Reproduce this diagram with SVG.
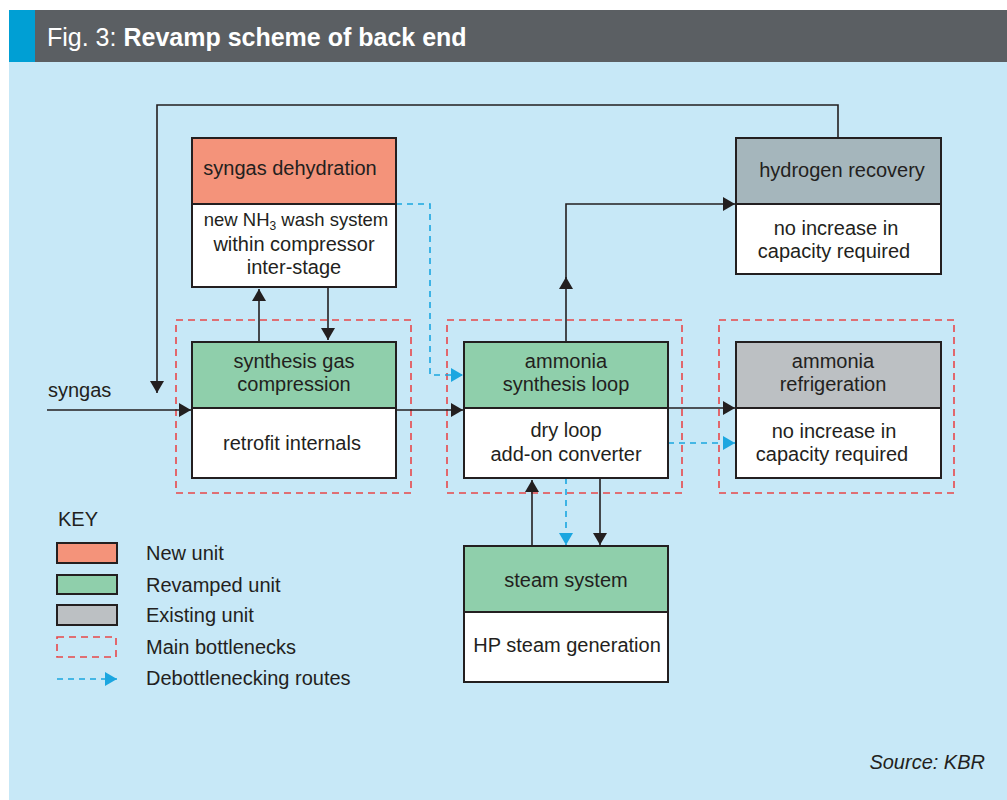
<svg xmlns="http://www.w3.org/2000/svg" width="1007" height="800" viewBox="0 0 1007 800">
  <style>
    .txt { font-family: "Liberation Sans", Arial, sans-serif; font-size: 20px; fill: #231f20; }
    .mid { text-anchor: middle; }
    .box { stroke: #231f20; stroke-width: 2; }
    .white { fill: #ffffff; }
    .new { fill: #f4937a; }
    .revamp { fill: #8fcfab; }
    .existing { fill: #bcc0c3; }
    .hydro { fill: #a5b6bc; }
    .bottleneck { fill: none; stroke: #e8474a; stroke-width: 1.6; stroke-dasharray: 7 5; }
    .flow { fill: none; stroke: #231f20; stroke-width: 1.6; }
    .route { fill: none; stroke: #1ba6e0; stroke-width: 1.6; stroke-dasharray: 6 5; }
  </style>
  <defs>
    <marker id="arrow" markerUnits="userSpaceOnUse" markerWidth="14" markerHeight="14" refX="12" refY="7" orient="auto">
      <path d="M0,0 L12,7 L0,14 Z" fill="#231f20"/>
    </marker>
    <marker id="arrowBlue" markerUnits="userSpaceOnUse" markerWidth="14" markerHeight="14" refX="12" refY="7" orient="auto">
      <path d="M0,0 L12,7 L0,14 Z" fill="#1ba6e0"/>
    </marker>
  </defs>

  <!-- panel background and title bar -->
  <rect x="9" y="10" width="998" height="790" fill="#c7e8f7"/>
  <rect x="9" y="10" width="998" height="52" fill="#5b5f63"/>
  <rect x="9" y="10" width="26" height="52" fill="#009fd4"/>
  <text x="47" y="46" font-family="'Liberation Sans', Arial, sans-serif" font-size="25" fill="#ffffff">Fig. 3: <tspan font-weight="bold">Revamp scheme of back end</tspan></text>

  <!-- main bottleneck outlines -->
  <g id="bottlenecks">
    <rect class="bottleneck" x="176" y="320" width="235" height="173"/>
    <rect class="bottleneck" x="447" y="320" width="235" height="173"/>
    <rect class="bottleneck" x="719" y="320" width="235" height="173"/>
  </g>

  <!-- connectors -->
  <g id="connectors">
    <!-- syngas feed -->
    <path class="flow" d="M47,410 H191" marker-end="url(#arrow)"/>
    <!-- hydrogen recovery recycle to suction -->
    <path class="flow" d="M838,138 V105 H157 V393" marker-end="url(#arrow)"/>
    <!-- compression <-> dehydration -->
    <path class="flow" d="M259,342 V289" marker-end="url(#arrow)"/>
    <path class="flow" d="M328,287 V340" marker-end="url(#arrow)"/>
    <!-- compression to synthesis loop -->
    <path class="flow" d="M396,410 H463" marker-end="url(#arrow)"/>
    <!-- synthesis loop to hydrogen recovery -->
    <path class="flow" d="M566,342 V277" marker-end="url(#arrow)"/>
    <path class="flow" d="M566,285 V204 H735" marker-end="url(#arrow)"/>
    <!-- synthesis loop to refrigeration -->
    <path class="flow" d="M668,408 H735" marker-end="url(#arrow)"/>
    <!-- steam system <-> synthesis loop -->
    <path class="flow" d="M532,546 V480" marker-end="url(#arrow)"/>
    <path class="flow" d="M600,478 V545" marker-end="url(#arrow)"/>
    <!-- debottlenecking routes -->
    <path class="route" d="M396,204 H430 V375 H463" marker-end="url(#arrowBlue)"/>
    <path class="route" d="M668,443 H735" marker-end="url(#arrowBlue)"/>
    <path class="route" d="M566,478 V545" marker-end="url(#arrowBlue)"/>
  </g>

  <text class="txt" x="48" y="397">syngas</text>

  <g id="syngas-dehydration">
    <rect class="box new" x="192" y="138" width="204" height="66"/>
    <rect class="box white" x="192" y="204" width="204" height="83"/>
    <text class="txt mid" x="290" y="175">syngas dehydration</text>
    <text class="txt mid" x="296" y="226" style="font-size:18.5px">new NH<tspan style="font-size:12px" dy="4">3</tspan><tspan dy="-4"> wash system</tspan></text>
    <text class="txt mid" x="294" y="251">within compressor</text>
    <text class="txt mid" x="294" y="274">inter-stage</text>
  </g>

  <g id="synthesis-gas-compression">
    <rect class="box revamp" x="192" y="342" width="204" height="66"/>
    <rect class="box white" x="192" y="408" width="204" height="70"/>
    <text class="txt mid" x="294" y="368">synthesis gas</text>
    <text class="txt mid" x="294" y="391">compression</text>
    <text class="txt mid" x="292" y="450">retrofit internals</text>
  </g>

  <g id="ammonia-synthesis-loop">
    <rect class="box revamp" x="464" y="342" width="204" height="66"/>
    <rect class="box white" x="464" y="408" width="204" height="70"/>
    <text class="txt mid" x="566" y="368">ammonia</text>
    <text class="txt mid" x="566" y="391">synthesis loop</text>
    <text class="txt mid" x="566" y="437">dry loop</text>
    <text class="txt mid" x="566" y="461">add-on converter</text>
  </g>

  <g id="hydrogen-recovery">
    <rect class="box hydro" x="736" y="138" width="205" height="66"/>
    <rect class="box white" x="736" y="204" width="205" height="70"/>
    <text class="txt mid" x="842" y="177">hydrogen recovery</text>
    <text class="txt mid" x="836" y="235">no increase in</text>
    <text class="txt mid" x="834" y="258">capacity required</text>
  </g>

  <g id="ammonia-refrigeration">
    <rect class="box existing" x="736" y="342" width="205" height="66"/>
    <rect class="box white" x="736" y="408" width="205" height="70"/>
    <text class="txt mid" x="833" y="368">ammonia</text>
    <text class="txt mid" x="833" y="391">refrigeration</text>
    <text class="txt mid" x="834" y="438">no increase in</text>
    <text class="txt mid" x="832" y="461">capacity required</text>
  </g>

  <g id="steam-system">
    <rect class="box revamp" x="464" y="546" width="204" height="66"/>
    <rect class="box white" x="464" y="612" width="204" height="70"/>
    <text class="txt mid" x="566" y="587">steam system</text>
    <text class="txt mid" x="567" y="652">HP steam generation</text>
  </g>

  <!-- legend -->
  <g id="key">
    <text class="txt" x="58" y="526">KEY</text>
    <rect class="box new" x="57" y="543" width="60" height="20"/>
    <rect class="box revamp" x="57" y="575" width="60" height="19"/>
    <rect class="box existing" x="57" y="605" width="60" height="20"/>
    <rect class="bottleneck" x="57" y="637" width="59" height="20"/>
    <path class="route" d="M57,679 H117" marker-end="url(#arrowBlue)"/>
    <text class="txt" x="146" y="560">New unit</text>
    <text class="txt" x="146" y="592">Revamped unit</text>
    <text class="txt" x="146" y="622">Existing unit</text>
    <text class="txt" x="146" y="654">Main bottlenecks</text>
    <text class="txt" x="146" y="685">Debottlenecking routes</text>
  </g>

  <text class="txt" x="985" y="769" text-anchor="end" font-style="italic">Source: KBR</text>
</svg>
